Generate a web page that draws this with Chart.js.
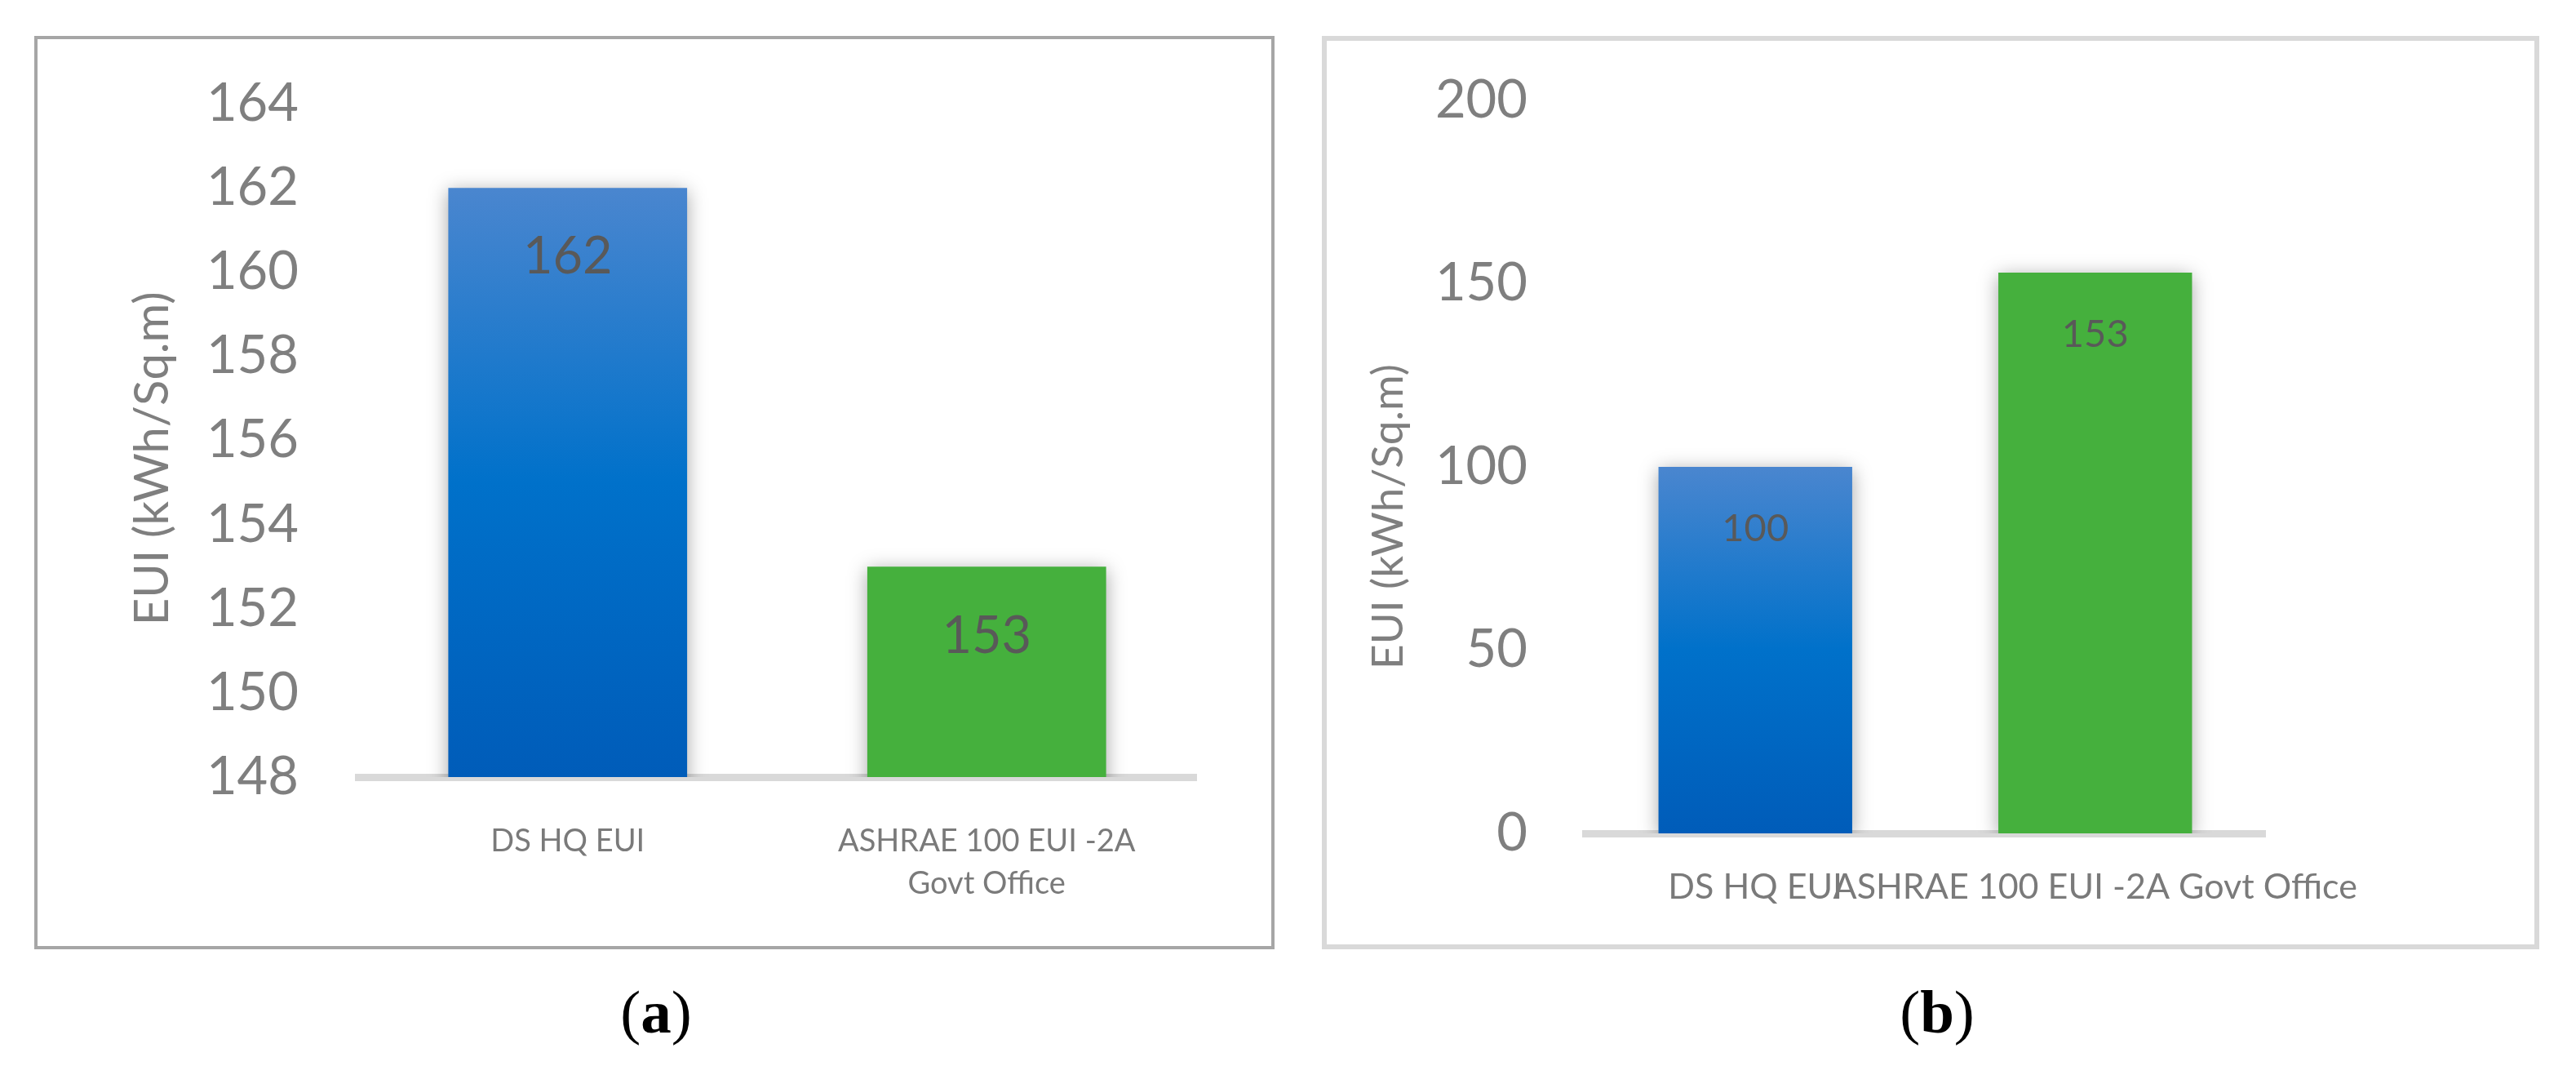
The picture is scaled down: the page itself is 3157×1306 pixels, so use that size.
<!DOCTYPE html>
<html>
<head>
<meta charset="utf-8">
<script src="https://cdn.jsdelivr.net/npm/chart.js@4"></script>
<style>
  body { margin: 0; width: 3157px; height: 1306px; background: #fff; position: relative; overflow: hidden; }
  .panel { position: absolute; box-sizing: border-box; background: #fff; }
  #panelA { left: 42px; top: 44px; width: 1520px; height: 1119px; border: 4px solid #a6a6a6; }
  #panelB { left: 1620px; top: 44px; width: 1492px; height: 1119px; border: 6px solid #d9d9d9; }
  canvas { display: block; }
  .caption { position: absolute; width: 200px; height: 100px; line-height: 100px; text-align: center;
    font-family: "Liberation Serif", "DejaVu Serif", serif; font-size: 75px; color: #000; }
  .caption b { font-weight: bold; }
</style>
</head>
<body>
<div class="panel" id="panelA"><canvas id="chartA" width="1512" height="1111"></canvas></div>
<div class="panel" id="panelB"><canvas id="chartB" width="1480" height="1107"></canvas></div>
<div class="caption" style="left:704px; top:1190px;">(<b>a</b>)</div>
<div class="caption" style="left:2274px; top:1190px;">(<b>b</b>)</div>

<script>
// chart (a)
const categoriesA = ['DS HQ EUI', ['ASHRAE 100 EUI -2A', 'Govt Office']];
const valuesA = [162, 153];
const yTicksA = [148, 150, 152, 154, 156, 158, 160, 162, 164];

// chart (b)
const categoriesB = ['DS HQ EUI', 'ASHRAE 100 EUI -2A Govt Office'];
const valuesB = [100, 153];
const yTicksB = [0, 50, 100, 150, 200];

const axisTitle = 'EUI (kWh/Sq.m)';
const fontFamily = 'Lato, "Open Sans", sans-serif';

// blue gradient for first bar, flat green for the second
function barColor(c) {
    const chart = c.chart;
    if (c.dataIndex === 1) return '#45B03D';
    const y = chart.scales.y;
    if (!chart.chartArea || !y) return '#0070C8';
    const top = y.getPixelForValue(c.raw);
    const bottom = chart.chartArea.bottom;
    const g = chart.ctx.createLinearGradient(0, top, 0, bottom);
    g.addColorStop(0, '#4A86CF');
    g.addColorStop(0.5, '#0071CA');
    g.addColorStop(1, '#005CB9');
    return g;
}

// shadow under the bars + value labels inside the top of each bar
const barExtras = {
    id: 'barExtras',
    beforeDatasetsDraw(chart) {
        const ctx = chart.ctx;
        ctx.save();
        ctx.shadowColor = 'rgba(0,0,0,0.35)';
        ctx.shadowBlur = 22;
        ctx.shadowOffsetX = 0;
        ctx.shadowOffsetY = 4;
    },
    afterDatasetsDraw(chart, args, opts) {
        const ctx = chart.ctx;
        ctx.restore();
        const meta = chart.getDatasetMeta(0);
        const data = chart.data.datasets[0].data;
        ctx.save();
        ctx.font = opts.size + 'px ' + fontFamily;
        ctx.fillStyle = '#595959';
        ctx.textAlign = 'center';
        ctx.textBaseline = 'middle';
        meta.data.forEach((bar, i) => {
            ctx.fillText(String(data[i]), bar.x, bar.y + opts.offset);
        });
        ctx.restore();
    }
};

function makeChart(id, cfg) {
    return new Chart(document.getElementById(id), {
        type: 'bar',
        data: {
            labels: cfg.labels,
            datasets: [{
                data: cfg.values,
                backgroundColor: barColor,
                borderWidth: 0,
                barPercentage: 0.57,
                categoryPercentage: 1.0
            }]
        },
        options: {
            responsive: false,
            animation: false,
            devicePixelRatio: 1,
            layout: { padding: { top: cfg.padTop, right: cfg.padRight, left: 0, bottom: 0 } },
            plugins: {
                legend: { display: false },
                tooltip: { enabled: false },
                barExtras: { size: cfg.valueSize, offset: cfg.valueOffset }
            },
            scales: {
                x: {
                    afterFit: (s) => { s.height = cfg.xHeight; },
                    grid: { display: false, drawTicks: false },
                    border: { display: true, color: '#d9d9d9', width: 9 },
                    ticks: {
                        autoSkip: false,
                        maxRotation: 0,
                        minRotation: 0,
                        padding: cfg.xPad,
                        color: '#7a7a7a',
                        font: { family: fontFamily, size: cfg.xSize, lineHeight: cfg.xLine }
                    }
                },
                y: {
                    min: cfg.ticks[0],
                    max: cfg.ticks[cfg.ticks.length - 1],
                    afterFit: (s) => {
                        s.width = cfg.yWidth;
                        s.paddingTop = 0;
                        s.paddingBottom = 0;
                    },
                    grid: { display: false, drawTicks: false },
                    border: { display: false },
                    ticks: {
                        stepSize: cfg.ticks[1] - cfg.ticks[0],
                        padding: cfg.yPad,
                        color: '#7f7f7f',
                        font: { family: fontFamily, size: 65 }
                    },
                    title: {
                        display: true,
                        text: axisTitle + '\u00a0'.repeat(cfg.titleShift),
                        color: '#7f7f7f',
                        padding: { top: cfg.titlePad, bottom: 0 },
                        font: { family: fontFamily, size: cfg.titleSize, lineHeight: 1.2 }
                    }
                }
            }
        },
        plugins: [barExtras]
    });
}

makeChart('chartA', {
    labels: categoriesA, values: valuesA, ticks: yTicksA,
    padTop: 79, padRight: 92, yWidth: 393, xHeight: 207,
    yPad: 73, xPad: 53, xSize: 38, xLine: 1.37,
    titleSize: 58, titlePad: 106, titleShift: 3,
    valueSize: 63, valueOffset: 85
});

makeChart('chartB', {
    labels: categoriesB, values: valuesB, ticks: yTicksB,
    padTop: 73, padRight: 330, yWidth: 317, xHeight: 136,
    yPad: 71, xPad: 40, xSize: 43, xLine: 1.2,
    titleSize: 53, titlePad: 44, titleShift: 9,
    valueSize: 47, valueOffset: 76
});
</script>
</body>
</html>
